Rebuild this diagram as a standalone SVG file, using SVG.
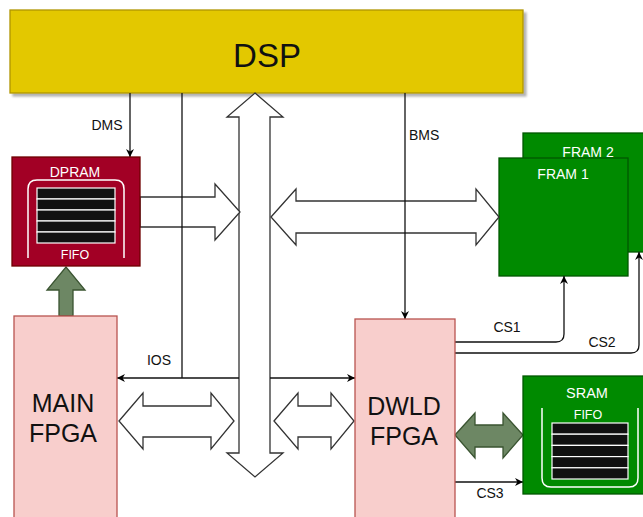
<svg xmlns="http://www.w3.org/2000/svg" width="643" height="517" viewBox="0 0 643 517">
  <defs>
    <marker id="arrow" viewBox="0 0 10 10" refX="10" refY="5" markerWidth="8" markerHeight="8" markerUnits="userSpaceOnUse" orient="auto">
      <path d="M0,0 L10,5 L0,10 L3,5 Z" fill="#000"/>
    </marker>
    <filter id="shadow" x="-5%" y="-5%" width="110%" height="120%">
      <feGaussianBlur in="SourceAlpha" stdDeviation="1"/>
      <feOffset dx="3" dy="3"/>
      <feComponentTransfer><feFuncA type="linear" slope="0.3"/></feComponentTransfer>
      <feMerge><feMergeNode/><feMergeNode in="SourceGraphic"/></feMerge>
    </filter>
  </defs>
  <style>
    text { font-family: "Liberation Sans", Arial, sans-serif; }
    .lbl { font-size: 14px; fill: #111; }
    .big { font-size: 25px; fill: #111; text-anchor: middle; }
    .wt { fill: #fff; text-anchor: middle; }
    .line { fill: none; stroke: #111; stroke-width: 1.3; }
    .block { fill: #fff; stroke: #333; stroke-width: 1.3; stroke-linejoin: miter; }
    .garrow { fill: #6d8764; stroke: #3a5431; stroke-width: 1.3; }
    .fpga { fill: #f8cecc; stroke: #b85450; stroke-width: 1.3; }
    .green { fill: #008a00; stroke: #005700; stroke-width: 1.3; }
    .bar { fill: #111; stroke: #fff; stroke-width: 1.2; }
    .cup { fill: none; stroke: #fff; stroke-width: 1.5; }
  </style>

  <!-- DSP -->
  <g id="dsp">
    <rect x="10" y="10" width="513" height="83" fill="#e3c800" stroke="#b09500" stroke-width="1.3" filter="url(#shadow)"/>
    <text x="267" y="67" font-size="33" fill="#111" text-anchor="middle">DSP</text>
  </g>

  <!-- FRAM chips (FRAM 2 sits behind FRAM 1) -->
  <g id="fram2">
    <rect x="523" y="133" width="130" height="119" class="green"/>
    <text x="588" y="157" class="wt" font-size="14">FRAM 2</text>
  </g>
  <g id="fram1">
    <rect x="499" y="158" width="129" height="118" class="green"/>
    <text x="563" y="179" class="wt" font-size="14">FRAM 1</text>
  </g>

  <!-- Connectors -->
  <g id="connectors">
    <!-- bidirectional data bus -->
    <polygon class="block" points="255,93 283,117 270,117 270,453 283,453 255,477 227,453 239,453 239,117 227,117"/>
    <!-- DPRAM to bus -->
    <polygon class="block" points="140,197 215,197 215,184 240,212 215,240 215,227 140,227"/>
    <!-- bus to FRAM -->
    <polygon class="block" points="271,217 296,189 296,201 476,201 476,189 499,217 476,245 476,233 296,233 296,245"/>
    <!-- MAIN FPGA to bus -->
    <polygon class="block" points="119,421 143,393 143,406 211,406 211,393 234,421 211,449 211,437 143,437 143,449"/>
    <!-- bus to DWLD FPGA -->
    <polygon class="block" points="274,421 298,393 298,406 331,406 331,393 354,421 331,449 331,437 298,437 298,449"/>
    <!-- MAIN FPGA feeds DPRAM -->
    <polygon class="garrow" points="59,316 59,290 47,290 66,267 85,290 73,290 73,316"/>
    <!-- DWLD FPGA to SRAM -->
    <polygon class="garrow" points="455,435 475,413 475,425 503,425 503,413 523,435 503,458 503,447 475,447 475,458"/>

    <path class="line" d="M130,93 V157" marker-end="url(#arrow)"/>
    <path class="line" d="M182,93 V378"/>
    <path class="line" d="M405,93 V319" marker-end="url(#arrow)"/>
    <path class="line" d="M239,378 H117" marker-end="url(#arrow)"/>
    <path class="line" d="M270,378 H355" marker-end="url(#arrow)"/>
    <path class="line" d="M455,342 H556 Q564,342 564,334 V276" marker-end="url(#arrow)"/>
    <path class="line" d="M455,353 H631 Q639,353 639,345 V252" marker-end="url(#arrow)"/>
    <path class="line" d="M455,482 H523" marker-end="url(#arrow)"/>

    <text x="107" y="130" class="lbl" text-anchor="middle">DMS</text>
    <text x="409" y="140" class="lbl">BMS</text>
    <text x="159" y="365" class="lbl" text-anchor="middle">IOS</text>
    <text x="507" y="332" class="lbl" text-anchor="middle">CS1</text>
    <text x="602" y="347" class="lbl" text-anchor="middle">CS2</text>
    <text x="490" y="498" class="lbl" text-anchor="middle">CS3</text>
  </g>

  <!-- DPRAM -->
  <g id="dpram">
    <rect x="12" y="157" width="128" height="109" fill="#a20025" stroke="#6f0000" stroke-width="1.3"/>
    <text x="75" y="177" class="wt" font-size="14">DPRAM</text>
    <path class="cup" d="M28,258 V189 Q28,180 37,180 H115 Q124,180 124,189 V258"/>
    <rect class="bar" x="37" y="188" width="78" height="11"/>
    <rect class="bar" x="37" y="199" width="78" height="11"/>
    <rect class="bar" x="37" y="210" width="78" height="11"/>
    <rect class="bar" x="37" y="221" width="78" height="11"/>
    <rect class="bar" x="37" y="232" width="78" height="11"/>
    <text x="75" y="259" class="wt" font-size="12.5">FIFO</text>
  </g>

  <!-- MAIN FPGA -->
  <g id="main-fpga">
    <rect x="14" y="316" width="103" height="210" class="fpga"/>
    <text x="63" y="412" class="big">MAIN</text>
    <text x="63" y="442" class="big">FPGA</text>
  </g>

  <!-- DWLD FPGA -->
  <g id="dwld-fpga">
    <rect x="355" y="319" width="100" height="210" class="fpga"/>
    <text x="404" y="415" class="big">DWLD</text>
    <text x="404" y="445" class="big">FPGA</text>
  </g>

  <!-- SRAM -->
  <g id="sram">
    <rect x="523" y="376" width="130" height="118" class="green"/>
    <text x="587" y="398" class="wt" font-size="14.5">SRAM</text>
    <text x="588" y="419" class="wt" font-size="12.5">FIFO</text>
    <path class="cup" d="M542,408 V478 Q542,487 551,487 H629 Q638,487 638,478 V408"/>
    <rect class="bar" x="552" y="423" width="76" height="11.2"/>
    <rect class="bar" x="552" y="434.2" width="76" height="11.2"/>
    <rect class="bar" x="552" y="445.4" width="76" height="11.2"/>
    <rect class="bar" x="552" y="456.6" width="76" height="11.2"/>
    <rect class="bar" x="552" y="467.8" width="76" height="11.2"/>
  </g>
</svg>
